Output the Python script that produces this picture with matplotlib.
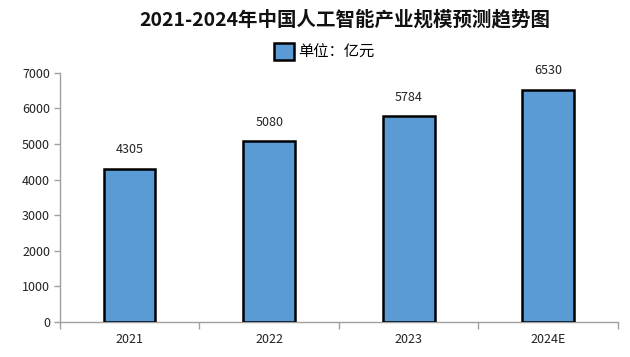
import matplotlib
matplotlib.use("Agg")
import matplotlib.pyplot as plt
from matplotlib.patches import Patch

plt.rcParams['font.family'] = ['Noto Sans CJK SC', 'DejaVu Sans']

categories = ["2021", "2022", "2023", "2024E"]
values = [4305, 5080, 5784, 6530]
yticks = [0, 1000, 2000, 3000, 4000, 5000, 6000, 7000]
title = "2021-2024年中国人工智能产业规模预测趋势图"
legend_label = "单位：亿元"

fig = plt.figure(figsize=(6.3, 3.57), dpi=100)
ax = fig.add_axes([0.095, 0.098, 0.886, 0.698])

x = list(range(len(categories)))
bars = ax.bar(x, values, width=0.37, color="#5B9BD5", edgecolor="black", linewidth=1.8, zorder=3)
for xi, v in zip(x, values):
    ax.annotate(str(v), (xi, v), xytext=(0, 9), textcoords="offset points",
                ha="center", va="bottom", fontsize=9, color="#222222")

ax.set_xlim(-0.5, len(categories) - 0.5)
ax.set_ylim(0, 7000)
ax.set_yticks(yticks)
ax.set_yticklabels([str(t) for t in yticks], fontsize=9, color="#222222")
ax.set_xticks(x)
ax.set_xticklabels(categories, fontsize=9, color="#222222")
ax.set_xticks([i - 0.5 for i in range(len(categories) + 1)], minor=True)
ax.tick_params(axis="x", which="major", length=0, pad=8)
ax.tick_params(axis="x", which="minor", length=5, color="#A0A0A0", width=1)
ax.tick_params(axis="y", length=4, color="#A0A0A0", width=1, pad=3)
for s in ["top", "right"]:
    ax.spines[s].set_visible(False)
for s in ["left", "bottom"]:
    ax.spines[s].set_color("#A0A0A0")
    ax.spines[s].set_linewidth(1)

fig.text(0.548, 0.945, title, ha="center", va="center", fontsize=14, fontweight="bold", color="#111111")
handle = Patch(facecolor="#5B9BD5", edgecolor="black", linewidth=1.8)
fig.legend([handle], [legend_label], loc="center", bbox_to_anchor=(0.515, 0.855),
           frameon=False, fontsize=11, handlelength=1.3, handleheight=1.3, handletextpad=0.3)

fig.savefig("out.png", dpi=100, facecolor="white")
